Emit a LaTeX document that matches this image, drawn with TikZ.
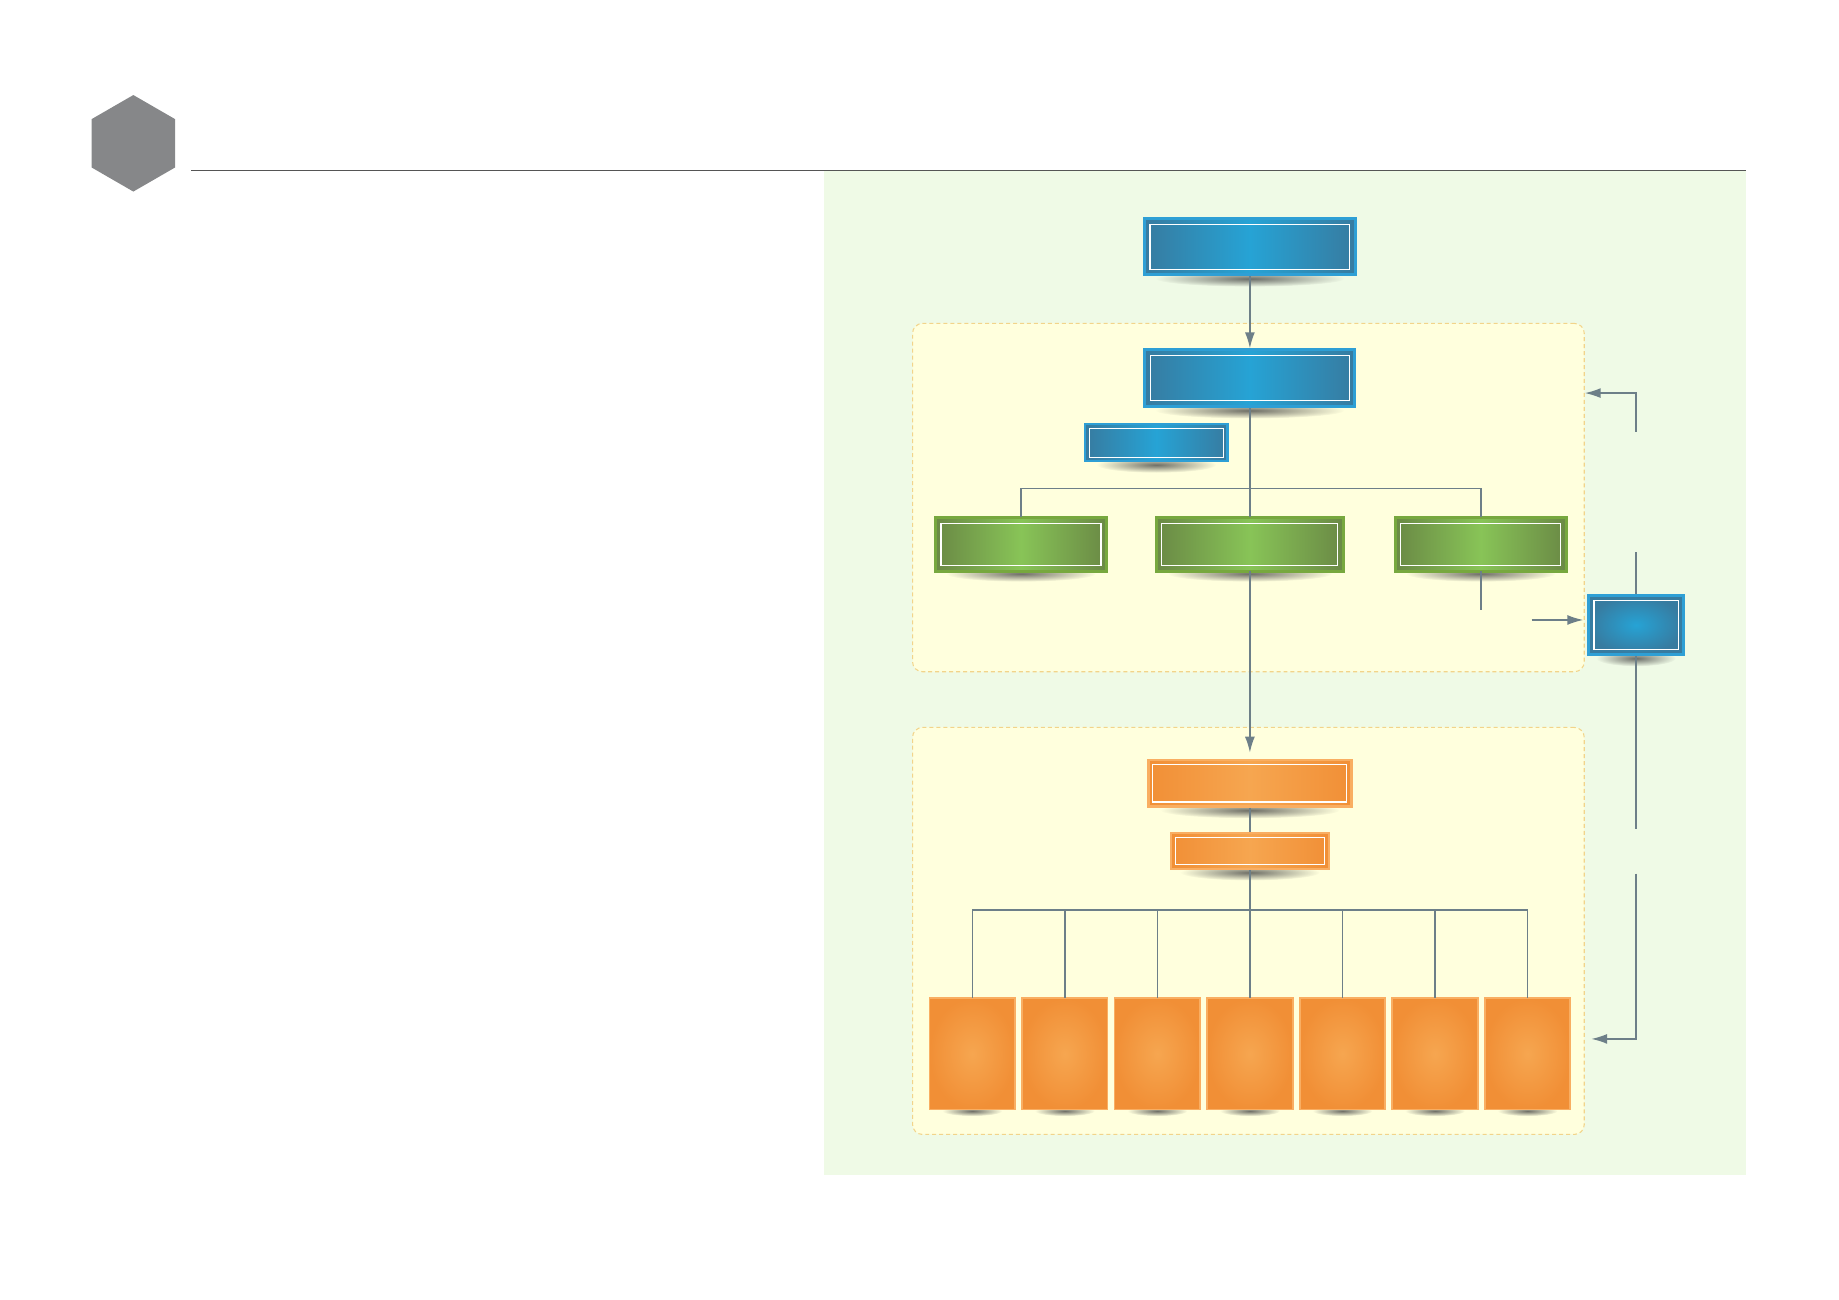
\documentclass[tikz,border=0pt]{standalone}
\usetikzlibrary{positioning, arrows, arrows.meta, shapes, fadings}
\definecolor{panelgreen}{HTML}{EFFAE6}
\definecolor{zonefill}{HTML}{FFFFDD}
\definecolor{zonedash}{HTML}{F2D48A}
\definecolor{linkgray}{HTML}{6D7F88}
\definecolor{rulegray}{HTML}{555555}
\definecolor{hexgray}{HTML}{868789}
\definecolor{blueedge}{HTML}{2E9FD5}
\definecolor{bluedark}{HTML}{377BA0}
\definecolor{bluelight}{HTML}{26A3D5}
\definecolor{greenedge}{HTML}{77A83E}
\definecolor{greendark}{HTML}{6A8945}
\definecolor{greenlight}{HTML}{88C457}
\definecolor{orangeedge}{HTML}{F9AE62}
\definecolor{orangedark}{HTML}{F18F36}
\definecolor{orangelight}{HTML}{F6A650}
\tikzfading[name=softshade, inner color=transparent!25, outer color=transparent!100]
\pgfdeclarelayer{back}
\pgfdeclarelayer{shade}
\pgfsetlayers{back,shade,main}
\tikzset{>={Latex[length=3.2mm, width=2mm]}, x=0.2mm, y=-0.2mm,
  framed/.style={path picture={\draw[white, line width=0.6pt]
      ([shift={(#1,#1)}]path picture bounding box.south west) rectangle
      ([shift={(-#1,-#1)}]path picture bounding box.north east);}},
  framed/.default=3.2pt,
  bluebox/.style={rectangle, inner sep=0pt, draw=blueedge, line width=1.7pt,
    left color=bluedark, right color=bluedark, middle color=bluelight, framed},
  greenbox/.style={rectangle, inner sep=0pt, outer sep=0pt, draw=greenedge,
    line width=1.7pt, minimum height=10.8mm, left color=greendark,
    right color=greendark, middle color=greenlight, framed},
  orangebox/.style={rectangle, inner sep=0pt, draw=orangeedge, line width=1.4pt,
    left color=orangedark, right color=orangedark, middle color=orangelight,
    framed=2.6pt},
  sidebox/.style={rectangle, inner sep=0pt, draw=blueedge, line width=1.7pt,
    minimum width=19mm, minimum height=11.8mm, inner color=bluelight,
    outer color=bluedark, framed=3pt},
  leaf/.style={rectangle, inner sep=0pt, outer sep=0pt, draw=orangeedge,
    line width=1pt, minimum width=17.2mm, minimum height=22.4mm,
    inner color=orangelight, outer color=orangedark},
  zone/.style={rectangle, rounded corners=2mm, draw=zonedash, fill=zonefill,
    line width=0.6pt, dash pattern=on 0.8mm off 0.6mm},
  hexmark/.style={regular polygon, regular polygon sides=6, shape border rotate=30,
    minimum size=19.4mm, inner sep=0pt, fill=hexgray},
  link/.style={draw=linkgray, line width=0.85pt},
  rule/.style={draw=rulegray, line width=0.7pt},
  shadowfill/.style={fill=black!75, path fading=softshade}
}

\begin{document}
\begin{tikzpicture}
\useasboundingbox (0,0) rectangle (1848,1306);

% header
\node[hexmark] (badge) at (134,144) {};
\draw[rule] (192,171) -- (1755,171);

% panel and zones
\begin{pgfonlayer}{back}
  \fill[panelgreen] (828,172) rectangle (1755,1181);
  \node[zone, minimum width=135mm, minimum height=70mm] (zoneA) at (1254.5,500) {};
  \node[zone, minimum width=135mm, minimum height=81.8mm] (zoneB) at (1254.5,935.5) {};
\end{pgfonlayer}

% upper boxes
\node[bluebox, minimum width=42.4mm, minimum height=11.2mm] (top) at (1256,248) {};
\node[bluebox, minimum width=42.2mm, minimum height=11.4mm] (mgr) at (1256,380) {};
\node[bluebox, line width=1.2pt, framed=2.4pt, minimum width=28.6mm, minimum height=7.4mm] (note) at (1162,445) {};
\node[greenbox, minimum width=37.6mm] (grpB) at (1256,547) {};
\node[greenbox, minimum width=34.4mm, left=10mm of grpB] (grpA) {};
\node[greenbox, minimum width=34.4mm, right=10.4mm of grpB] (grpC) {};
\node[sidebox] (side) at (1644,628) {};

% lower boxes
\node[orangebox, minimum width=40.8mm, minimum height=9.4mm] (ord) at (1256,787) {};
\node[orangebox, minimum width=31.8mm, minimum height=7.2mm] (sub) at (1256,855) {};
\node[leaf] (leaf1) at (977,1059) {};
\foreach \i [count=\p] in {2,...,7}
  \node[leaf, right=1.4mm of leaf\p] (leaf\i) {};

% shadows
\begin{pgfonlayer}{shade}
  \foreach \n/\r in {top/19, mgr/19, note/12, grpA/15, grpB/16.5, grpC/15, side/8, ord/18, sub/14}
    \fill[shadowfill] ([yshift=-0.5mm]\n.south) ellipse (\r mm and 1.6mm);
  \foreach \i in {1,...,7}
    \fill[shadowfill] ([yshift=-0.3mm]leaf\i.south) ellipse (6mm and 1mm);
\end{pgfonlayer}

% connectors
\coordinate (grpCend) at (1488,613);
\coordinate (sideIn) at (1539,623);
\coordinate (fbUp) at (1644,434);
\coordinate (fbTurn) at (1644,395);
\coordinate (sideTop) at (1644,555);
\coordinate (sideLow) at (1644,833);
\coordinate (fbDown) at (1644,878);
\coordinate (fbEnd) at (1599,1044);

\draw[link, ->] (top) -- (mgr);
\draw[link] (mgr) -- (grpB);
\foreach \g in {grpA,grpC}
  \draw[link] (mgr.south) ++(0,81) -| (\g.north);
\draw[link, ->, shorten >=1.2mm] (grpB) -- (ord);
\draw[link] (grpC.south) -- (grpC.south |- grpCend);
\draw[link, ->, shorten >=0.8mm] (sideIn) -- (sideIn -| side.west);
\draw[link, ->] (fbUp) -- (fbTurn) -- (fbTurn -| zoneA.east);
\draw[link] (sideTop) -- (side);
\draw[link] (side) -- (sideLow);
\draw[link, ->] (fbDown) |- (fbEnd);
\draw[link] (ord) -- (sub);
\draw[link] (sub.south) -- ++(0,40);
\foreach \i in {1,...,7}
  \draw[link] (sub.south) ++(0,40) -| (leaf\i.north);
\end{tikzpicture}
\end{document}
